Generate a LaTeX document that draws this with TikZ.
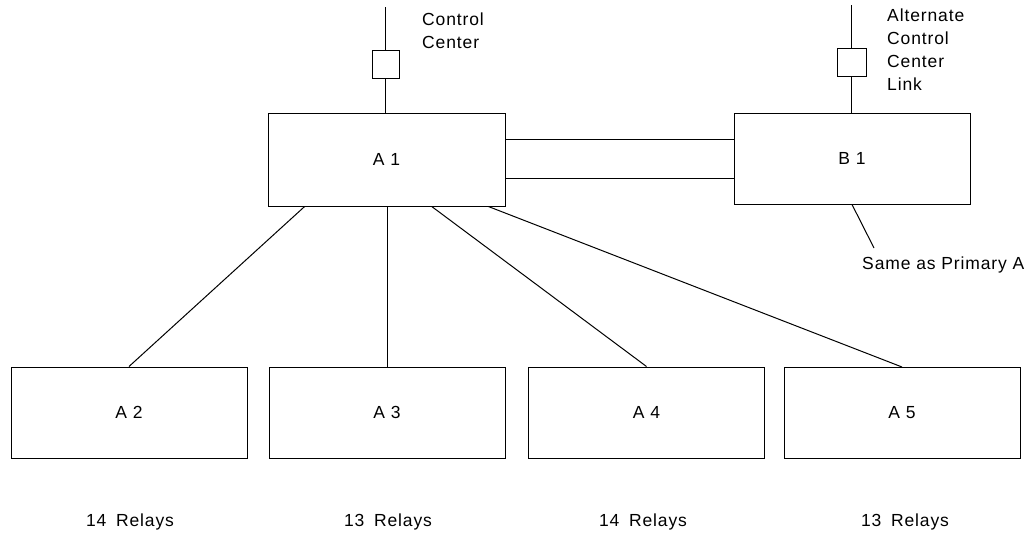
\documentclass[tikz,border=0pt]{standalone}
\usepackage{fontspec}
\setmainfont{Liberation Sans}[LetterSpace=5]
\usetikzlibrary{calc}
\begin{document}
\begin{tikzpicture}[x=1pt,y=-1pt,
  every node/.style={font=\fontsize{17.5}{23}\selectfont},
  unit/.style={draw, line width=1pt, inner sep=0pt, minimum width=236pt, minimum height=91pt},
  coupler/.style={draw, line width=1pt, inner sep=0pt, minimum width=28pt, minimum height=28pt},
  wire/.style={line width=1pt},
  note/.style={align=left, inner sep=0pt}]
  \useasboundingbox[fill=white] (0,0) rectangle (1033,533);

  % main stations
  \node[unit, minimum width=237pt, minimum height=93pt] (A1) at (386.5,159.5) {A 1};
  \node[unit] (B1) at (852,158.5) {B 1};

  % remote stations
  \node[unit] (A2) at (129,412.5) {A 2};
  \node[unit] (A3) at (387,412.5) {A 3};
  \node[unit] (A4) at (646.5,412.5) {A 4};
  \node[unit] (A5) at (902,413) {A 5};

  % link couplers
  \node[coupler, minimum width=27pt] (cA) at (385.5,64) {};
  \node[coupler, minimum width=29pt] (cB) at (851.5,62) {};
  \coordinate (topA) at (385.5,7);
  \coordinate (topB) at (851.5,5);
  \coordinate (tail) at (874,248);

  % labels
  \node[note, anchor=west] (ccA) at (422,30.5) {Control\\Center};
  \node[note, anchor=west] (ccB) at (887,50) {Alternate\\Control\\Center\\Link};
  \node[note, anchor=west] (same) at (862,265) {Same as Primary A};
  \node (r2) at (130,522) {14\hspace{0.55em}Relays};
  \node (r3) at (388,522) {13\hspace{0.55em}Relays};
  \node (r4) at (643,522) {14\hspace{0.55em}Relays};
  \node (r5) at (905,522) {13\hspace{0.55em}Relays};

  % control center links
  \draw[wire] (topA) -- (cA.north);
  \draw[wire] (cA.south) -- (cA.south |- A1.north);
  \draw[wire] (topB) -- (cB.north);
  \draw[wire] (cB.south) -- (cB.south |- B1.north);

  % A1 -- B1 pair of links
  \coordinate (l1) at ($(A1.north east)!0.29!(A1.south east)$);
  \coordinate (l2) at ($(A1.north east)!0.70!(A1.south east)$);
  \draw[wire] (l1) -- (l1 -| B1.west);
  \draw[wire] (l2) -- (l2 -| B1.west);

  % B1 note leader
  \draw[wire] (B1.south) -- (tail);

  % A1 to remote stations
  \draw[wire] ($(A1.south west)!0.156!(A1.south east)$) -- (A2.north);
  \draw[wire] (A1.south -| A3.north) -- (A3.north);
  \draw[wire] ($(A1.south west)!0.690!(A1.south east)$) -- (A4.north);
  \draw[wire] ($(A1.south west)!0.928!(A1.south east)$) -- (A5.north);
\end{tikzpicture}
\end{document}
